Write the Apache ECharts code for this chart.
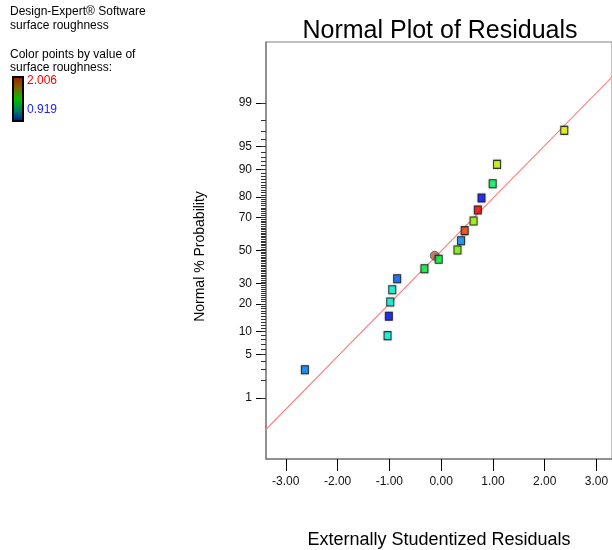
<!DOCTYPE html>
<html>
<head>
<meta charset="utf-8">
<script src="https://cdn.jsdelivr.net/npm/echarts@6/dist/echarts.min.js"></script>
<style>
  html, body { margin: 0; padding: 0; background: #ffffff; }
  #chart { width: 612px; height: 550px; }
</style>
</head>
<body>
<div id="chart"></div>
<script>
// ---- Data ----
const residuals   = [-2.63, -1.034, -1.009, -0.982, -0.944, -0.849, -0.322, -0.047, 0.316, 0.385, 0.455, 0.627, 0.709, 0.780, 0.996, 1.080, 2.378];
const probability = [3.0, 8.95, 14.96, 20.8, 26.8, 32.8, 38.7, 44.5, 50.3, 56.1, 62.3, 67.9, 73.9, 79.6, 85.4, 91.3, 97.1];
const roughness   = [1.06, 1.224, 0.93, 1.224, 1.24, 1.025, 1.395, 1.395, 1.599, 1.075, 1.938, 1.634, 2.006, 0.935, 1.36, 1.676, 1.708];
const highlightResidual = [-0.123];
const highlightProbability = [46.7];
const fitLineResidual = [-3.5, 3.5];
const fitLineProbability = [0.175, 99.816];
const probTicks = [1, 5, 10, 20, 30, 50, 70, 80, 90, 95, 99];
const probMinorTicks = Array.from({length: 99}, (_, i) => i + 1);
const residTicks = [-3, -2, -1, 0, 1, 2, 3];
const roughMin = 0.919, roughMax = 2.006;

// ---- Normal probability scale transform (inverse normal CDF) ----
function probit(p) {
  const a=[-3.969683028665376e+01,2.209460984245205e+02,-2.759285104469687e+02,1.383577518672690e+02,-3.066479806614716e+01,2.506628277459239e+00];
  const b=[-5.447609879822406e+01,1.615858368580409e+02,-1.556989798598866e+02,6.680131188771972e+01,-1.328068155288572e+01];
  const c=[-7.784894002430293e-03,-3.223964580411365e-01,-2.400758277161838e+00,-2.549732539343734e+00,4.374664141464968e+00,2.938163982698783e+00];
  const d=[7.784695709041462e-03,3.224671290700398e-01,2.445134137142996e+00,3.754408661907416e+00];
  const pl = 0.02425, ph = 1 - pl;
  let q, r;
  if (p < pl) { q = Math.sqrt(-2*Math.log(p)); return (((((c[0]*q+c[1])*q+c[2])*q+c[3])*q+c[4])*q+c[5])/((((d[0]*q+d[1])*q+d[2])*q+d[3])*q+1); }
  if (p > ph) { q = Math.sqrt(-2*Math.log(1-p)); return -(((((c[0]*q+c[1])*q+c[2])*q+c[3])*q+c[4])*q+c[5])/((((d[0]*q+d[1])*q+d[2])*q+d[3])*q+1); }
  q = p - 0.5; r = q*q;
  return (((((a[0]*r+a[1])*r+a[2])*r+a[3])*r+a[4])*r+a[5])*q/(((((b[0]*r+b[1])*r+b[2])*r+b[3])*r+b[4])*r+1);
}
const z = pct => probit(pct / 100);
const zMin = z(0.05), zMax = z(99.95);
const majorZ = probTicks.map(z);
const minorZ = probMinorTicks.map(z);

const pointData = residuals.map((r, i) => [r, z(probability[i]), roughness[i]]);
const highlightData = highlightResidual.map((r, i) => [r, z(highlightProbability[i])]);
const lineData = fitLineResidual.map((r, i) => [r, z(fitLineProbability[i])]);

const FONT = '"Liberation Sans", Arial, sans-serif';
const chart = echarts.init(document.getElementById('chart'), null, {renderer: 'canvas'});

const GRID_W = 350;
const option = {
  backgroundColor: '#ffffff',
  animation: false,
  grid: {
    left: 266, top: 42, width: GRID_W, height: 417,
    show: true, borderColor: '#808080', borderWidth: 1, backgroundColor: 'transparent'
  },
  xAxis: {
    type: 'value',
    min: -3.382, max: -3.382 + GRID_W / 52.38,
    axisLine: { show: true, onZero: false, lineStyle: { color: '#808080', width: 1.5 } },
    splitLine: { show: false },
    axisTick: { show: true, customValues: residTicks, length: 12, lineStyle: { color: '#000', width: 1 } },
    axisLabel: { customValues: residTicks, margin: 17, fontSize: 12, color: '#111', fontFamily: FONT,
                 formatter: v => v.toFixed(2) }
  },
  yAxis: [
    {
      type: 'value', min: zMin, max: zMax, position: 'left',
      axisLine: { show: true, onZero: false, lineStyle: { color: '#808080', width: 1.5 } },
      splitLine: { show: false },
      axisTick: { show: true, customValues: majorZ, length: 10, lineStyle: { color: '#000', width: 1 } },
      axisLabel: {
        customValues: majorZ, margin: 14, fontSize: 12, color: '#111', fontFamily: FONT,
        formatter: v => {
          let best = 0, bd = Infinity;
          majorZ.forEach((m, i) => { const dd = Math.abs(m - v); if (dd < bd) { bd = dd; best = i; } });
          return String(probTicks[best]);
        }
      }
    },
    {
      type: 'value', min: zMin, max: zMax, position: 'left', offset: 0,
      axisLine: { show: false, onZero: false },
      splitLine: { show: false },
      axisTick: { show: true, customValues: minorZ, length: 5, lineStyle: { color: '#333', width: 1 } },
      axisLabel: { show: false }
    }
  ],
  visualMap: {
    show: false, type: 'continuous', dimension: 2, seriesIndex: 2,
    min: roughMin, max: roughMax,
    inRange: { color: ['#0000ff', '#00ffff', '#00ff00', '#ffff00', '#ff0000'] }
  },
  series: [
    {
      type: 'line', data: lineData, xAxisIndex: 0, yAxisIndex: 0,
      symbol: 'none', clip: true, silent: true,
      lineStyle: { color: '#ff7f7f', width: 1.2 }, z: 1
    },
    {
      type: 'scatter', data: highlightData, xAxisIndex: 0, yAxisIndex: 0,
      symbol: 'circle', symbolSize: 9,
      itemStyle: { color: '#b4574f', borderColor: '#555', borderWidth: 1 }, z: 2
    },
    {
      type: 'scatter', data: pointData, xAxisIndex: 0, yAxisIndex: 0,
      symbol: 'rect', symbolSize: [7, 8],
      itemStyle: { borderColor: '#111', borderWidth: 1, shadowColor: 'rgba(0,0,0,0.35)', shadowBlur: 2 },
      z: 3
    }
  ],
  graphic: [
    { type: 'text', x: 440, y: 31, style: { text: 'Normal Plot of Residuals', font: '25px ' + FONT, fill: '#000', align: 'center', verticalAlign: 'middle' } },
    { type: 'text', x: 439, y: 540, style: { text: 'Externally Studentized Residuals', font: '18px ' + FONT, fill: '#000', align: 'center', verticalAlign: 'middle' } },
    { type: 'text', x: 200, y: 256.5, rotation: Math.PI / 2, style: { text: 'Normal % Probability', font: '14px ' + FONT, fill: '#000', align: 'center', verticalAlign: 'middle' } },
    { type: 'text', x: 10, y: 12, style: { text: 'Design-Expert® Software', font: '12px ' + FONT, fill: '#000', verticalAlign: 'middle' } },
    { type: 'text', x: 10, y: 26, style: { text: 'surface roughness', font: '12px ' + FONT, fill: '#000', verticalAlign: 'middle' } },
    { type: 'text', x: 10, y: 55, style: { text: 'Color points by value of', font: '12px ' + FONT, fill: '#000', verticalAlign: 'middle' } },
    { type: 'text', x: 10, y: 68, style: { text: 'surface roughness:', font: '12px ' + FONT, fill: '#000', verticalAlign: 'middle' } },
    { type: 'rect', shape: { x: 13, y: 77, width: 10, height: 44 },
      style: { fill: new echarts.graphic.LinearGradient(0, 0, 0, 1, [
        { offset: 0, color: '#a01800' }, { offset: 0.25, color: '#806000' }, { offset: 0.5, color: '#00c000' },
        { offset: 0.75, color: '#008060' }, { offset: 1, color: '#0010a0' }]),
        stroke: '#000', lineWidth: 2 } },
    { type: 'text', x: 27, y: 81, style: { text: String(roughMax), font: '12px ' + FONT, fill: '#ff0000', verticalAlign: 'middle' } },
    { type: 'text', x: 27, y: 110, style: { text: String(roughMin), font: '12px ' + FONT, fill: '#2020ff', verticalAlign: 'middle' } }
  ]
};
chart.setOption(option);
</script>
</body>
</html>
